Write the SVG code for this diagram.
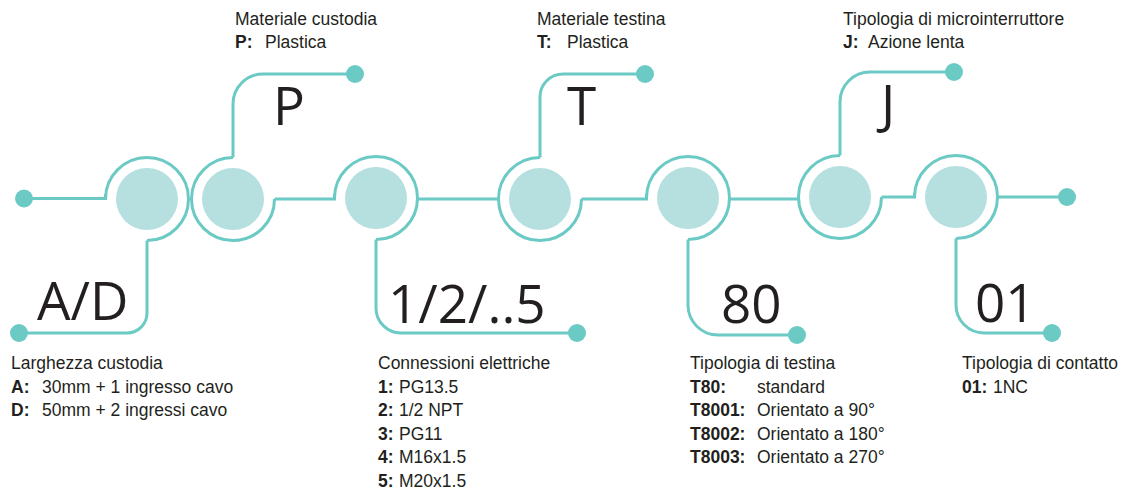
<svg xmlns="http://www.w3.org/2000/svg" width="1125" height="494" viewBox="0 0 1125 494">
<style>
.ring{fill:none;stroke:#6ccac5;stroke-width:3}
.core{fill:#b5e0df}
.wire{fill:none;stroke:#6ccac5;stroke-width:3}
.dot{fill:#6ccac5}
.big{font-family:"Open Sans","Noto Sans",sans-serif;font-size:53px;fill:#231f20}
.t{font-family:"Liberation Sans",Arial,sans-serif;font-size:17.5px;fill:#231f20}
.b{font-weight:bold}
</style>
<rect width="1125" height="494" fill="#ffffff"/>
<g id="connectors">
<path class="wire" d="M24 198.5 H105.5 V194"/>
<path class="wire" d="M147 240.5 V313 A20 20 0 0 1 127 333 H19"/>
<path class="wire" d="M233 157.5 V104 A30 30 0 0 1 263 74 H355"/>
<path class="wire" d="M274.5 199 H334.5 V194"/>
<path class="wire" d="M376 239.5 V308 A25 25 0 0 0 401 333 H577"/>
<path class="wire" d="M417.5 199 H498.5"/>
<path class="wire" d="M540 157.5 V97 A23 23 0 0 1 563 74 H645"/>
<path class="wire" d="M581.5 199 H646.5 V194"/>
<path class="wire" d="M688 239.5 V305 A30 30 0 0 0 718 335 H797"/>
<path class="wire" d="M729.5 199 H798.5"/>
<path class="wire" d="M840 155.5 V102 A30 30 0 0 1 870 72 H954"/>
<path class="wire" d="M881.5 197 H914.5 V193"/>
<path class="wire" d="M956 238.5 V305 A28 28 0 0 0 984 333 H1052"/>
<path class="wire" d="M997.5 197 H1067"/>
<circle class="dot" cx="24" cy="198.5" r="9"/>
<circle class="dot" cx="19" cy="333" r="9"/>
<circle class="dot" cx="355" cy="74" r="9"/>
<circle class="dot" cx="577" cy="333" r="9"/>
<circle class="dot" cx="645" cy="74" r="9"/>
<circle class="dot" cx="797" cy="335" r="9"/>
<circle class="dot" cx="954" cy="72" r="9"/>
<circle class="dot" cx="1052" cy="333" r="9"/>
<circle class="dot" cx="1067" cy="197" r="9"/>
</g>
<g id="node-AD">
<path class="ring" d="M105.5 199 A41.5 41.5 0 1 1 147 240.5"/>
<circle class="core" cx="147" cy="199" r="31"/>
<text class="big" x="37" y="320">A/D</text>
<text class="t" x="11" y="369">Larghezza custodia</text>
<text class="t" y="393"><tspan class="b" x="11">A:</tspan><tspan x="42">30mm + 1 ingresso cavo</tspan></text>
<text class="t" y="416"><tspan class="b" x="11">D:</tspan><tspan x="42">50mm + 2 ingressi cavo</tspan></text>
</g>
<g id="node-P">
<path class="ring" d="M233 157.5 A41.5 41.5 0 1 0 274.5 199"/>
<circle class="core" cx="233" cy="199" r="31"/>
<text class="big" x="273" y="125">P</text>
<text class="t" x="235" y="25">Materiale custodia</text>
<text class="t" y="48"><tspan class="b" x="235">P:</tspan><tspan x="265">Plastica</tspan></text>
</g>
<g id="node-conn">
<path class="ring" d="M334.5 198 A41.5 41.5 0 1 1 376 239.5"/>
<circle class="core" cx="376" cy="198" r="31"/>
<text class="big" x="388" y="323">1/2/..5</text>
<text class="t" x="378" y="369">Connessioni elettriche</text>
<text class="t" y="393"><tspan class="b" x="378">1:</tspan><tspan x="399">PG13.5</tspan></text>
<text class="t" y="416"><tspan class="b" x="378">2:</tspan><tspan x="399">1/2 NPT</tspan></text>
<text class="t" y="440"><tspan class="b" x="378">3:</tspan><tspan x="399">PG11</tspan></text>
<text class="t" y="463"><tspan class="b" x="378">4:</tspan><tspan x="399">M16x1.5</tspan></text>
<text class="t" y="487"><tspan class="b" x="378">5:</tspan><tspan x="399">M20x1.5</tspan></text>
</g>
<g id="node-T">
<path class="ring" d="M540 157.5 A41.5 41.5 0 1 0 581.5 199"/>
<circle class="core" cx="540" cy="199" r="31"/>
<text class="big" x="567" y="125">T</text>
<text class="t" x="537" y="25">Materiale testina</text>
<text class="t" y="48"><tspan class="b" x="537">T:</tspan><tspan x="567">Plastica</tspan></text>
</g>
<g id="node-80">
<path class="ring" d="M646.5 198 A41.5 41.5 0 1 1 688 239.5"/>
<circle class="core" cx="688" cy="198" r="31"/>
<text class="big" x="721" y="323">80</text>
<text class="t" x="690" y="369">Tipologia di testina</text>
<text class="t" y="393"><tspan class="b" x="690">T80:</tspan><tspan x="757">standard</tspan></text>
<text class="t" y="416"><tspan class="b" x="690">T8001:</tspan><tspan x="757">Orientato a 90°</tspan></text>
<text class="t" y="440"><tspan class="b" x="690">T8002:</tspan><tspan x="757">Orientato a 180°</tspan></text>
<text class="t" y="463"><tspan class="b" x="690">T8003:</tspan><tspan x="757">Orientato a 270°</tspan></text>
</g>
<g id="node-J">
<path class="ring" d="M840 155.5 A41.5 41.5 0 1 0 881.5 197"/>
<circle class="core" cx="840" cy="197" r="31"/>
<text class="big" x="881" y="123">J</text>
<text class="t" x="843" y="25">Tipologia di microinterruttore</text>
<text class="t" y="48"><tspan class="b" x="843">J:</tspan><tspan x="868">Azione lenta</tspan></text>
</g>
<g id="node-01">
<path class="ring" d="M914.5 197 A41.5 41.5 0 1 1 956 238.5"/>
<circle class="core" cx="956" cy="197" r="31"/>
<text class="big" x="975" y="322">01</text>
<text class="t" x="962" y="369">Tipologia di contatto</text>
<text class="t" y="393"><tspan class="b" x="962">01:</tspan><tspan x="993">1NC</tspan></text>
</g>
</svg>
